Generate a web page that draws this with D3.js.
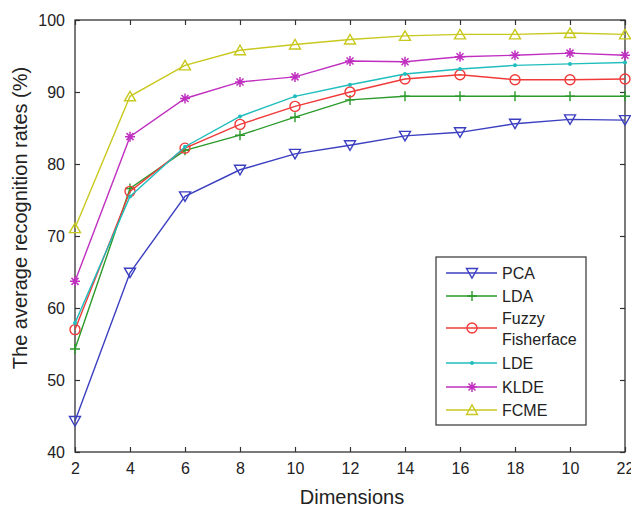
<!DOCTYPE html>
<html lang="en">
<head>
  <meta charset="UTF-8">
  <title>Recognition rates</title>
  <style>
    html, body { margin: 0; padding: 0; background: #fff; }
    text { font-family: "Liberation Sans", Arial, sans-serif; fill: #222; }
  </style>
</head>
<body>
  <svg class="chart"></svg>
  <script src="https://cdnjs.cloudflare.com/ajax/libs/d3/7.8.5/d3.min.js"></script>
  <script>
    // data
    const dims = [2, 4, 6, 8, 10, 12, 14, 16, 18, 20, 22];
    const dimLabels = ["2", "4", "6", "8", "10", "12", "14", "16", "18", "10", "22"];
    const yTicks = [40, 50, 60, 70, 80, 90, 100];
    const seriesNames = ["PCA", "LDA", "Fuzzy Fisherface", "LDE", "KLDE", "FCME"];
    const pca   = [44.3, 64.9, 75.5, 79.2, 81.4, 82.6, 83.9, 84.4, 85.6, 86.2, 86.1];
    const lda   = [54.3, 76.6, 81.9, 84.0, 86.5, 88.9, 89.4, 89.4, 89.4, 89.4, 89.4];
    const fuzzy = [57.0, 76.2, 82.2, 85.5, 88.0, 90.0, 91.8, 92.4, 91.7, 91.7, 91.8];
    const lde   = [57.9, 75.5, 82.4, 86.6, 89.4, 91.0, 92.5, 93.2, 93.7, 93.9, 94.1];
    const klde  = [63.7, 83.8, 89.1, 91.4, 92.1, 94.3, 94.2, 94.9, 95.1, 95.4, 95.1];
    const fcme  = [71.1, 89.4, 93.7, 95.8, 96.6, 97.3, 97.8, 98.0, 98.0, 98.2, 98.0];

    const colors = ["#3b3fc0", "#2a9a2a", "#f03a3a", "#20bdbd", "#c030c0", "#c8c81e"];
    const markers = ["tdown", "plus", "circle", "dot", "star", "tup"];
    const allValues = [pca, lda, fuzzy, lde, klde, fcme];
    const series = seriesNames.map((name, i) => ({
      name: name, values: allValues[i], color: colors[i], marker: markers[i]
    }));

    const width = 631, height = 509;
    const m = { left: 75, top: 20, right: 6, bottom: 57 };
    const w = width - m.left - m.right, h = height - m.top - m.bottom;

    const svg = d3.select("svg.chart").attr("width", width).attr("height", height);
    const g = svg.append("g").attr("transform", `translate(${m.left},${m.top})`);

    const x = d3.scaleLinear().domain([2, 22]).range([0, w]);
    const y = d3.scaleLinear().domain([40, 100]).range([h, 0]);

    // axes, matlab style ticks inward on all 4 sides
    const axisStyle = sel => {
      sel.select(".domain").remove();
      sel.selectAll("line").attr("stroke", "#333").attr("stroke-width", 1.2);
      sel.selectAll("text").style("font-size", "16px").attr("fill", "#222");
    };
    g.append("g").attr("transform", `translate(0,${h})`)
      .call(d3.axisBottom(x).tickValues(dims).tickFormat((d, i) => dimLabels[i]).tickSizeInner(-5).tickSizeOuter(0).tickPadding(11))
      .call(axisStyle);
    g.append("g")
      .call(d3.axisTop(x).tickValues(dims).tickFormat("").tickSizeInner(-5).tickSizeOuter(0))
      .call(axisStyle);
    g.append("g")
      .call(d3.axisLeft(y).tickValues(yTicks).tickSizeInner(-5).tickSizeOuter(0).tickPadding(10))
      .call(axisStyle);
    g.append("g").attr("transform", `translate(${w},0)`)
      .call(d3.axisRight(y).tickValues(yTicks).tickFormat("").tickSizeInner(-5).tickSizeOuter(0))
      .call(axisStyle);

    g.append("rect").attr("width", w).attr("height", h)
      .attr("fill", "none").attr("stroke", "#333").attr("stroke-width", 1.3);

    // markers
    function drawMarker(sel, type, color) {
      if (type === "tdown") {
        sel.append("path").attr("d", "M-5.5,-4.5 L5.5,-4.5 L0,5 Z")
          .attr("fill", "none").attr("stroke", color).attr("stroke-width", 1.4);
      } else if (type === "tup") {
        sel.append("path").attr("d", "M-5.5,4.5 L5.5,4.5 L0,-5 Z")
          .attr("fill", "none").attr("stroke", color).attr("stroke-width", 1.4);
      } else if (type === "circle") {
        sel.append("circle").attr("r", 5)
          .attr("fill", "none").attr("stroke", color).attr("stroke-width", 1.4);
      } else if (type === "plus") {
        sel.append("path").attr("d", "M0,-5 L0,5 M-5,0 L5,0")
          .attr("stroke", color).attr("stroke-width", 1.4);
      } else if (type === "dot") {
        sel.append("circle").attr("r", 2).attr("fill", color);
      } else if (type === "star") {
        sel.append("path").attr("d", "M0,-5 L0,5 M-5,0 L5,0 M-3.5,-3.5 L3.5,3.5 M-3.5,3.5 L3.5,-3.5")
          .attr("stroke", color).attr("stroke-width", 1.5);
      }
    }

    const line = d3.line().x((d, i) => x(dims[i])).y(d => y(d));

    series.forEach(s => {
      g.append("path").datum(s.values).attr("d", line)
        .attr("fill", "none").attr("stroke", s.color).attr("stroke-width", 1.4);
      g.append("g").selectAll("g")
        .data(s.values).enter().append("g")
        .attr("transform", (d, i) => `translate(${x(dims[i])},${y(d)})`)
        .each(function () { drawMarker(d3.select(this), s.marker, s.color); });
    });

    // axis titles
    svg.append("text").attr("x", 352).attr("y", 504)
      .attr("text-anchor", "middle").style("font-size", "20px").text("Dimensions");
    svg.append("text").attr("transform", "translate(27,218) rotate(-90)")
      .attr("text-anchor", "middle").style("font-size", "20px")
      .text("The average recognition rates (%)");

    // legend
    const lg = svg.append("g").attr("transform", "translate(436,257)");
    lg.append("rect").attr("width", 150).attr("height", 168)
      .attr("fill", "#fff").attr("stroke", "#333").attr("stroke-width", 1.2);
    const rowY = [16, 39, 71, 106, 130, 153];
    series.forEach((s, i) => {
      const row = lg.append("g").attr("transform", `translate(0,${rowY[i]})`);
      row.append("line").attr("x1", 10).attr("x2", 61)
        .attr("stroke", s.color).attr("stroke-width", 1.4);
      drawMarker(row.append("g").attr("transform", "translate(36,0)"), s.marker, s.color);
      const words = s.name === "Fuzzy Fisherface" ? ["Fuzzy", "Fisherface"] : [s.name];
      words.forEach((wd, k) => {
        row.append("text").attr("x", 66)
          .attr("y", 6 + (k - (words.length - 1) / 2) * 21)
          .style("font-size", "16px").text(wd);
      });
    });
  </script>
</body>
</html>
